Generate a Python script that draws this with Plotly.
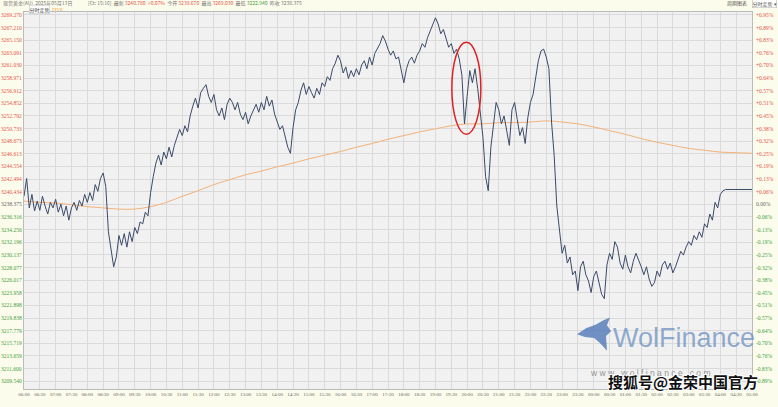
import plotly.graph_objects as go

# ---------------- data ----------------
START_HOUR = 6
PRICE_STEP_MIN = 5
AVG_STEP_MIN = 30
BASE_PRICE = 3238.375

price = [
    3239.7, 3242.6, 3237.8, 3240.0, 3237.3, 3238.9, 3237.4, 3239.7, 3238.1, 3236.8,
    3238.7, 3237.8, 3239.2, 3237.1, 3238.4, 3236.5, 3238.1, 3235.8, 3237.8, 3238.7,
    3237.4, 3239.0, 3238.1, 3240.0, 3238.7, 3240.3, 3239.0, 3241.6, 3240.5, 3242.6,
    3243.5, 3241.3, 3233.9, 3231.4, 3228.2, 3229.8, 3233.3, 3231.7, 3233.6, 3231.4,
    3233.9, 3232.3, 3234.6, 3233.6, 3235.5, 3235.2, 3237.1, 3236.5, 3240.3, 3242.9,
    3245.1, 3246.4, 3244.8, 3246.9, 3245.8, 3247.7, 3246.1, 3248.0, 3249.3, 3250.6,
    3249.6, 3251.2, 3250.2, 3252.8, 3254.4, 3255.7, 3254.1, 3256.6, 3257.3, 3257.9,
    3256.0, 3255.0, 3256.3, 3253.8, 3252.8, 3254.1, 3252.2, 3254.7, 3255.7, 3255.0,
    3253.8, 3255.0, 3253.1, 3252.2, 3253.4, 3251.5, 3252.8, 3253.8, 3254.7, 3253.4,
    3255.0, 3253.8, 3256.0, 3254.4, 3255.4, 3253.1, 3251.8, 3250.6, 3251.2, 3249.6,
    3247.7, 3246.7, 3250.9, 3253.8, 3255.0, 3257.0, 3258.2, 3256.3, 3257.6, 3256.6,
    3255.7, 3257.3, 3256.3, 3258.2, 3257.6, 3259.2, 3258.6, 3260.5, 3261.4, 3262.7,
    3261.8, 3259.8, 3260.8, 3258.9, 3260.2, 3259.2, 3260.5, 3259.5, 3261.1, 3261.8,
    3260.5, 3262.4, 3261.1, 3263.0, 3263.7, 3264.6, 3265.9, 3265.0, 3263.7, 3262.7,
    3263.4, 3262.1, 3262.4, 3260.2, 3258.2, 3260.5, 3261.8, 3262.4, 3261.4, 3262.7,
    3263.4, 3264.6, 3264.0, 3265.6, 3266.6, 3267.5, 3268.8, 3267.8, 3266.2, 3266.9,
    3265.3, 3264.0, 3264.6, 3263.0, 3263.7, 3262.1, 3259.5, 3251.5, 3256.0, 3260.2,
    3258.2, 3260.5, 3257.3, 3252.8, 3249.3, 3242.9, 3240.6, 3247.7, 3251.2, 3255.0,
    3253.8, 3251.5, 3252.8, 3250.2, 3248.0, 3253.8, 3255.0, 3252.2, 3249.6, 3250.9,
    3248.3, 3252.5, 3255.0, 3256.3, 3259.5, 3261.8, 3263.4, 3263.7, 3262.4, 3260.5,
    3251.8, 3246.4, 3238.1, 3233.9, 3230.4, 3231.7, 3228.8, 3229.8, 3226.9, 3227.5,
    3224.3, 3228.2, 3229.1, 3226.9, 3225.9, 3224.0, 3226.6, 3227.5, 3225.3, 3223.7,
    3223.0, 3228.5, 3230.4, 3229.4, 3232.3, 3231.4, 3228.8, 3227.8, 3230.1, 3228.2,
    3227.2, 3229.1, 3230.4, 3229.4, 3228.2, 3226.9, 3228.2, 3226.2, 3225.0, 3225.6,
    3227.5, 3226.6, 3228.5, 3229.1, 3227.8, 3228.8, 3227.2, 3228.2, 3229.4, 3230.7,
    3230.1, 3231.4, 3232.3, 3231.7, 3233.3, 3232.6, 3233.9, 3233.0, 3235.2, 3234.6,
    3236.8, 3235.8, 3238.7, 3237.8, 3240.0, 3240.6, 3240.8, 3240.8, 3240.8, 3240.8,
    3240.8, 3240.8, 3240.8, 3240.8, 3240.8, 3240.8, 3240.8,
]

avg_price = [
    3238.9, 3238.7, 3238.6, 3238.3, 3238.0, 3237.8, 3237.6, 3237.6, 3238.0, 3238.7,
    3239.7, 3240.6, 3241.6, 3242.4, 3243.2, 3243.8, 3244.5, 3245.1, 3245.8, 3246.4,
    3247.0, 3247.7, 3248.3, 3249.0, 3249.6, 3250.2, 3250.7, 3251.2, 3251.5, 3251.5,
    3251.7, 3251.7, 3251.8, 3252.0, 3251.8, 3251.5, 3251.0, 3250.4, 3249.8, 3249.1,
    3248.5, 3248.0, 3247.5, 3247.2, 3246.9, 3246.8, 3246.7,
]

level_values = [
    3269.270, 3267.210, 3265.150, 3263.091, 3261.030, 3258.971, 3256.912, 3254.852,
    3252.792, 3250.733, 3248.673, 3246.613, 3244.554, 3242.494, 3240.434, 3238.375,
    3236.316, 3234.256, 3232.196, 3230.137, 3228.077, 3226.017, 3223.958, 3221.898,
    3219.838, 3217.779, 3215.719, 3213.659, 3211.600, 3209.540,
]

pct_labels = [
    "+0.95%", "+0.89%", "+0.83%", "+0.76%", "+0.70%", "+0.64%", "+0.57%", "+0.51%",
    "+0.45%", "+0.38%", "+0.32%", "+0.25%", "+0.19%", "+0.13%", "+0.06%", "0.00%",
    "-0.06%", "-0.13%", "-0.19%", "-0.25%", "-0.32%", "-0.38%", "-0.45%", "-0.51%",
    "-0.57%", "-0.64%", "-0.70%", "-0.76%", "-0.83%", "-0.89%",
]

time_labels = [
    "06:00", "06:30", "07:00", "07:30", "08:00", "08:30", "09:00", "09:30", "10:00",
    "10:30", "11:00", "11:30", "12:00", "12:30", "13:00", "13:30", "14:00", "14:30",
    "15:00", "15:30", "16:00", "16:30", "17:00", "17:30", "18:00", "18:30", "19:00",
    "19:30", "20:00", "20:30", "21:00", "21:30", "22:00", "22:30", "23:00", "23:30",
    "00:00", "00:30", "01:00", "01:30", "02:00", "02:30", "03:00", "03:30", "04:00",
    "04:30", "05:00",
]

# ---------------- layout constants ----------------
W, H = 778, 407
ML, MR, MT, MB = 24, 26, 12, 10
PW, PH = W - ML - MR, H - MT - MB
Y_RANGE = [3208.26, 3269.75]

RED = "#e4524a"
GREEN = "#3f9c3f"
GREY = "#666666"
BG = "#fcfcec"
PLOT_BG = "#f1f1f1"
GRID = "#dadada"
NUM_FONT = "Liberation Serif"
CJK = "Noto Sans CJK SC"


def px(x):
    return (x - ML) / PW


def py(y):
    return (H - MB - y) / PH


x_price = [i * PRICE_STEP_MIN for i in range(len(price))]
x_avg = [i * AVG_STEP_MIN for i in range(len(avg_price))]
tick_vals = [i * 30 for i in range(len(time_labels))]

fig = go.Figure()
fig.add_trace(go.Scatter(
    x=x_avg, y=avg_price, mode="lines",
    line=dict(color="#f3b27a", width=1, shape="spline"),
    hoverinfo="skip", showlegend=False,
))
fig.add_trace(go.Scatter(
    x=x_price, y=price, mode="lines",
    line=dict(color="#3b4a68", width=1),
    showlegend=False,
))

annotations = []
for v, p in zip(level_values, pct_labels):
    if v > BASE_PRICE + 1e-6:
        c = RED
    elif v < BASE_PRICE - 1e-6:
        c = GREEN
    else:
        c = GREY
    annotations.append(dict(
        x=px(23), xref="paper", y=v, yref="y", text=f"{v:.3f}", showarrow=False,
        xanchor="right", yanchor="middle", borderpad=0,
        font=dict(family=NUM_FONT, size=5.5, color=c),
    ))
    annotations.append(dict(
        x=px(755), xref="paper", y=v, yref="y", text=p, showarrow=False,
        xanchor="left", yanchor="middle", borderpad=0,
        font=dict(family=NUM_FONT, size=5.5, color=c),
    ))

# header
annotations.append(dict(
    x=px(2), y=py(3), xref="paper", yref="paper", xanchor="left", yanchor="middle",
    showarrow=False, borderpad=0,
    text=("现货黄金(AU)  2025年05月13日" + "&nbsp;" * 14 + "[Ct: 15:16]  最新 "
          f"<span style='color:{RED}'>3240.780  +0.07%</span>  今开 "
          f"<span style='color:{RED}'>3239.670</span>  最高 "
          f"<span style='color:{RED}'>3269.030</span>  最低 "
          f"<span style='color:{GREEN}'>3222.940</span>  昨收 3238.375"),
    font=dict(family=CJK, size=5, color="#777777"),
))
annotations.append(dict(
    x=px(39), y=py(9.5), xref="paper", yref="paper", xanchor="center", yanchor="middle",
    showarrow=False, text="分时走势", bgcolor="#ffffff", bordercolor="#bbbbbb",
    borderwidth=0.5, borderpad=0,
    font=dict(family=CJK, size=5, color="#444444"),
))
annotations.append(dict(
    x=px(57), y=py(9.5), xref="paper", yref="paper", xanchor="center", yanchor="middle",
    showarrow=False, text="FIVE", borderpad=0,
    font=dict(family=NUM_FONT, size=5, color="#f0a030"),
))
annotations.append(dict(
    x=px(737), y=py(3), xref="paper", yref="paper", xanchor="center", yanchor="middle",
    showarrow=False, text="周期图表", borderpad=0,
    font=dict(family=CJK, size=5, color="#555555"),
))
annotations.append(dict(
    x=px(777), y=py(3), xref="paper", yref="paper", xanchor="right", yanchor="middle",
    showarrow=False, text="分时走势 ▾", bgcolor="#ffffff", bordercolor="#aaaaaa",
    borderwidth=0.5, borderpad=0,
    font=dict(family=CJK, size=5, color="#555555"),
))

# watermarks
annotations.append(dict(
    x=px(612), y=py(345), xref="paper", yref="paper", xanchor="left", yanchor="middle",
    showarrow=False, text="WolFinance", borderpad=0,
    font=dict(family="Liberation Sans", size=27, color="rgba(110,145,195,0.75)"),
))
annotations.append(dict(
    x=px(589), y=py(381), xref="paper", yref="paper", xanchor="left", yanchor="middle",
    showarrow=False, text="w w w . w o l f i n a n c e . c o m", borderpad=0,
    font=dict(family="Liberation Sans", size=8.5, color="rgba(120,120,120,0.8)"),
))
annotations.append(dict(
    x=px(607), y=py(389), xref="paper", yref="paper", xanchor="left", yanchor="middle",
    showarrow=False, text="<b>搜狐号@金荣中国官方</b>", borderpad=0,
    font=dict(family=CJK, size=15, color="#111111",
              shadow="1px 1px 0 #fff, -1px -1px 0 #fff, 1px -1px 0 #fff, -1px 1px 0 #fff"),
))

wolf = [(577, 341), (586, 335), (596, 331), (603, 327), (610, 324), (607, 332),
        (611, 338), (606, 343), (607, 358), (600, 350), (594, 345), (585, 344)]
wolf_path = "M " + " L ".join(f"{px(a):.4f},{py(b):.4f}" for a, b in wolf) + " Z"

shapes = [
    dict(type="path", xref="paper", yref="paper", path=wolf_path,
         fillcolor="rgba(80,120,185,0.8)", line=dict(width=0)),
    dict(type="circle", xref="x", yref="y", x0=811, x1=866, y0=3249.8, y1=3264.8,
         line=dict(color="#e02020", width=1.5)),
]

fig.update_layout(
    width=W, height=H,
    margin=dict(l=ML, r=MR, t=MT, b=MB, pad=0),
    paper_bgcolor=BG, plot_bgcolor=PLOT_BG,
    showlegend=False,
    annotations=annotations,
    shapes=shapes,
    xaxis=dict(
        range=[0, 1380], tickmode="array", tickvals=tick_vals, ticktext=time_labels,
        showgrid=True, gridcolor=GRID, gridwidth=1, zeroline=False,
        showline=True, linecolor="#bbbbbb", mirror=True, ticks="",
        tickfont=dict(family=NUM_FONT, size=5, color="#666666"),
        tickangle=0, fixedrange=True,
    ),
    yaxis=dict(
        range=Y_RANGE, tickmode="array", tickvals=level_values,
        showticklabels=False, showgrid=True, gridcolor=GRID, gridwidth=1,
        zeroline=False, showline=True, linecolor="#bbbbbb", mirror=True, ticks="",
        fixedrange=True,
    ),
)

fig.write_html(
    "out.html",
    config={"displayModeBar": False},
    post_script="document.body.style.margin='0';document.body.style.overflow='hidden';",
)
